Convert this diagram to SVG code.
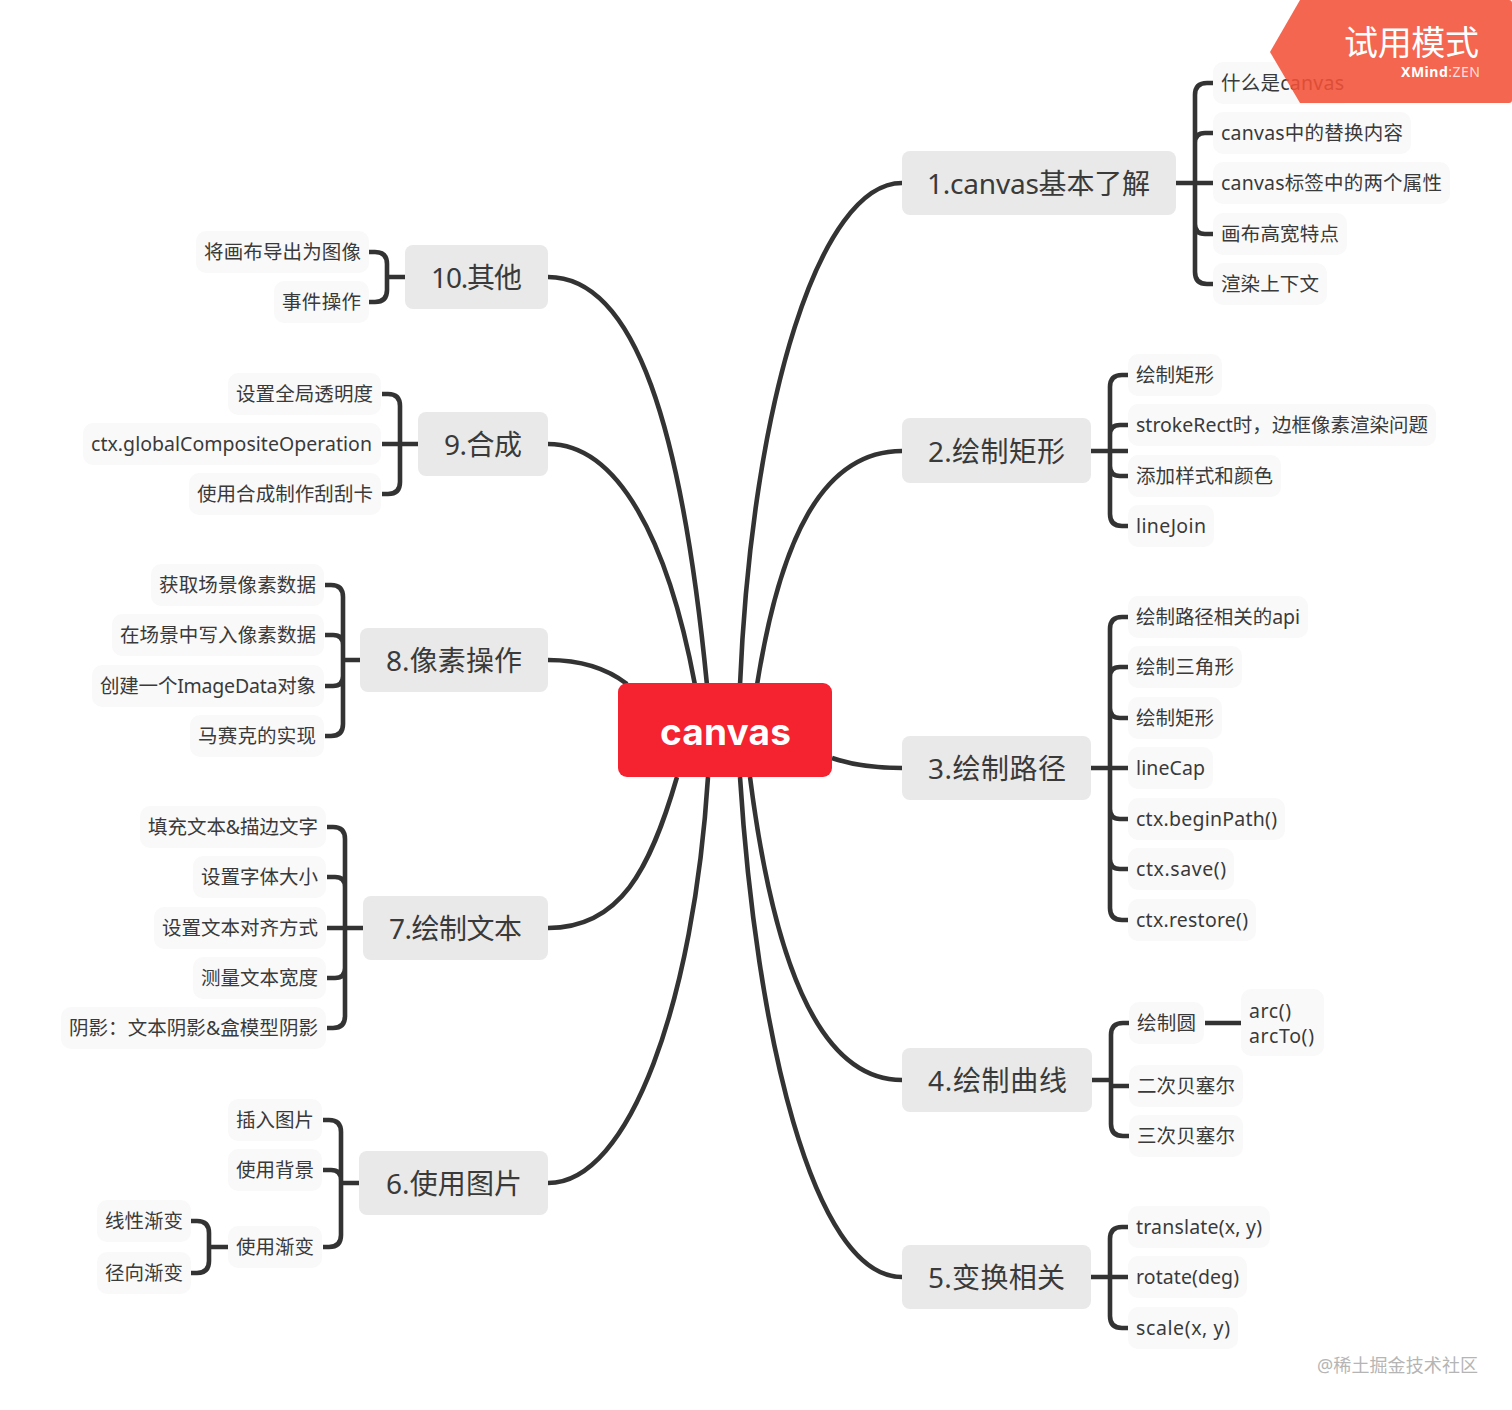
<svg xmlns="http://www.w3.org/2000/svg" width="1512" height="1410" viewBox="0 0 1512 1410">
<style>
text{font-family:"Noto Sans","Noto Sans CJK SC",sans-serif;fill:#3a3a3a;dominant-baseline:central}
.m rect{fill:#e9e9e9}
.s rect{fill:#f9f9f9}
.m text{font-size:28px;transform:translateY(-.5px)}
.s text{font-size:19.5px;transform:translateY(-1px)}
.c path{fill:none;stroke:#333;stroke-width:4.6}
</style>
<rect width="1512" height="1410" fill="#fff"/>
<g id="connectors" class="c">
<path d="M740 685C752 400 820 183 902 183"/>
<path d="M757 685C780 540 822 451 902 451"/>
<path d="M832 758C855 766 880 768 902 768"/>
<path d="M750 777C772 950 815 1080 902 1080"/>
<path d="M740 777C756 1030 812 1277 902 1277"/>
<path d="M708 777C694 1000 630 1183 548 1183"/>
<path d="M677 777C650 870 620 928 548 928"/>
<path d="M627 684C605 667 580 660 548 660"/>
<path d="M695 685C668 540 618 444 548 444"/>
<path d="M707 685C682 430 636 277 548 277"/>
<path d="M1176 183H1213M1213 83H1207Q1195 83 1195 95V272Q1195 284 1207 284H1213M1213 133H1205Q1195 133 1195 143M1213 234H1205Q1195 234 1195 224"/>
<path d="M1091 451H1128M1128 375H1122Q1110 375 1110 387V514Q1110 526 1122 526H1128M1128 425H1120Q1110 425 1110 435M1128 476H1120Q1110 476 1110 466"/>
<path d="M1091 768H1128M1128 617H1122Q1110 617 1110 629V908Q1110 920 1122 920H1128M1128 667H1120Q1110 667 1110 677M1128 718H1120Q1110 718 1110 708M1128 819H1120Q1110 819 1110 809M1128 869H1120Q1110 869 1110 859"/>
<path d="M1092 1080H1111M1129 1023H1123Q1111 1023 1111 1035V1124Q1111 1136 1123 1136H1129M1129 1086H1111M1205 1023H1241"/>
<path d="M1091 1277H1128M1128 1227H1122Q1110 1227 1110 1239V1316Q1110 1328 1122 1328H1128"/>
<path d="M405 277H387M369 252H375Q387 252 387 264V290Q387 302 375 302H369"/>
<path d="M418 444H382M382 394H388Q400 394 400 406V482Q400 494 388 494H382"/>
<path d="M360 660H343M325 585H331Q343 585 343 597V724Q343 736 331 736H325M325 635H333Q343 635 343 645M325 686H333Q343 686 343 676"/>
<path d="M363 928H327M327 827H333Q345 827 345 839V1016Q345 1028 333 1028H327M327 877H335Q345 877 345 887M327 978H335Q345 978 345 968"/>
<path d="M359 1183H341M323 1120H329Q341 1120 341 1132V1235Q341 1247 329 1247H323M323 1170H331Q341 1170 341 1180"/>
<path d="M228 1247H209M191 1221H197Q209 1221 209 1233V1261Q209 1273 197 1273H191"/>
</g>
<g id="root"><rect x="618" y="683" width="214" height="94" rx="9" fill="#f5222f"/><text x="660" y="731" textLength="131" style="font-size:37px;font-weight:700;fill:#fff;font-family:Inter,'Noto Sans',sans-serif">canvas</text></g>

<g id="t1" class="m"><rect x="902" y="151" width="274" height="64" rx="8"/><text x="927" y="183" textLength="223">1.canvas基本了解</text></g>
<g id="t2" class="m"><rect x="902" y="418" width="189" height="65" rx="8"/><text x="928" y="451" textLength="137">2.绘制矩形</text></g>
<g id="t3" class="m"><rect x="902" y="736" width="189" height="64" rx="8"/><text x="928" y="768" textLength="138">3.绘制路径</text></g>
<g id="t4" class="m"><rect x="902" y="1048" width="190" height="64" rx="8"/><text x="928" y="1080" textLength="139">4.绘制曲线</text></g>
<g id="t5" class="m"><rect x="902" y="1245" width="189" height="64" rx="8"/><text x="928" y="1277" textLength="137">5.变换相关</text></g>
<g id="t6" class="m"><rect x="359" y="1151" width="189" height="64" rx="8"/><text x="386" y="1183" textLength="136">6.使用图片</text></g>
<g id="t7" class="m"><rect x="363" y="896" width="185" height="64" rx="8"/><text x="389" y="928" textLength="133">7.绘制文本</text></g>
<g id="t8" class="m"><rect x="360" y="628" width="188" height="64" rx="8"/><text x="386" y="660" textLength="136">8.像素操作</text></g>
<g id="t9" class="m"><rect x="418" y="412" width="130" height="64" rx="8"/><text x="444" y="444" textLength="78">9.合成</text></g>
<g id="t10" class="m"><rect x="405" y="245" width="143" height="64" rx="8"/><text x="431" y="277" textLength="91">10.其他</text></g>

<g id="n1-1" class="s"><rect x="1213" y="62" width="139" height="42" rx="10"/><text x="1221" y="83" textLength="123">什么是canvas</text></g>
<g id="n1-2" class="s"><rect x="1213" y="112" width="198" height="42" rx="10"/><text x="1221" y="133" textLength="182">canvas中的替换内容</text></g>
<g id="n1-3" class="s"><rect x="1213" y="162" width="237" height="42" rx="10"/><text x="1221" y="183" textLength="221">canvas标签中的两个属性</text></g>
<g id="n1-4" class="s"><rect x="1213" y="213" width="134" height="42" rx="10"/><text x="1221" y="234" textLength="118">画布高宽特点</text></g>
<g id="n1-5" class="s"><rect x="1213" y="263" width="114" height="42" rx="10"/><text x="1221" y="284" textLength="98">渲染上下文</text></g>

<g id="n2-1" class="s"><rect x="1128" y="354" width="94" height="42" rx="10"/><text x="1136" y="375" textLength="78">绘制矩形</text></g>
<g id="n2-2" class="s"><rect x="1128" y="404" width="308" height="42" rx="10"/><text x="1136" y="425" textLength="292">strokeRect时，边框像素渲染问题</text></g>
<g id="n2-3" class="s"><rect x="1128" y="455" width="153" height="42" rx="10"/><text x="1136" y="476" textLength="137">添加样式和颜色</text></g>
<g id="n2-4" class="s"><rect x="1128" y="505" width="86" height="42" rx="10"/><text x="1136" y="526" textLength="70">lineJoin</text></g>

<g id="n3-1" class="s"><rect x="1128" y="596" width="180" height="42" rx="10"/><text x="1136" y="617" textLength="164">绘制路径相关的api</text></g>
<g id="n3-2" class="s"><rect x="1128" y="646" width="114" height="42" rx="10"/><text x="1136" y="667" textLength="98">绘制三角形</text></g>
<g id="n3-3" class="s"><rect x="1128" y="697" width="94" height="42" rx="10"/><text x="1136" y="718" textLength="78">绘制矩形</text></g>
<g id="n3-4" class="s"><rect x="1128" y="747" width="85" height="42" rx="10"/><text x="1136" y="768" textLength="69">lineCap</text></g>
<g id="n3-5" class="s"><rect x="1128" y="798" width="157" height="42" rx="10"/><text x="1136" y="819" textLength="141">ctx.beginPath()</text></g>
<g id="n3-6" class="s"><rect x="1128" y="848" width="106" height="42" rx="10"/><text x="1136" y="869" textLength="90">ctx.save()</text></g>
<g id="n3-7" class="s"><rect x="1128" y="899" width="128" height="42" rx="10"/><text x="1136" y="920" textLength="112">ctx.restore()</text></g>

<g id="n4-1" class="s"><rect x="1129" y="1002" width="75" height="42" rx="10"/><text x="1137" y="1023" textLength="59">绘制圆</text></g>
<g id="n4-1-1" class="s"><rect x="1241" y="989" width="83" height="67" rx="10"/><text x="1249" y="1011" textLength="42">arc()</text><text x="1249" y="1036" textLength="65">arcTo()</text></g>
<g id="n4-2" class="s"><rect x="1129" y="1065" width="114" height="42" rx="10"/><text x="1137" y="1086" textLength="98">二次贝塞尔</text></g>
<g id="n4-3" class="s"><rect x="1129" y="1115" width="114" height="42" rx="10"/><text x="1137" y="1136" textLength="98">三次贝塞尔</text></g>

<g id="n5-1" class="s"><rect x="1128" y="1206" width="142" height="42" rx="10"/><text x="1136" y="1227" textLength="126">translate(x, y)</text></g>
<g id="n5-2" class="s"><rect x="1128" y="1256" width="119" height="42" rx="10"/><text x="1136" y="1277" textLength="103">rotate(deg)</text></g>
<g id="n5-3" class="s"><rect x="1128" y="1307" width="110" height="42" rx="10"/><text x="1136" y="1328" textLength="94">scale(x, y)</text></g>

<g id="n6-1" class="s"><rect x="228" y="1099" width="94" height="42" rx="10"/><text x="236" y="1120" textLength="78">插入图片</text></g>
<g id="n6-2" class="s"><rect x="228" y="1149" width="94" height="42" rx="10"/><text x="236" y="1170" textLength="78">使用背景</text></g>
<g id="n6-3" class="s"><rect x="228" y="1226" width="94" height="42" rx="10"/><text x="236" y="1247" textLength="78">使用渐变</text></g>
<g id="n6-3-1" class="s"><rect x="97" y="1200" width="94" height="42" rx="10"/><text x="105" y="1221" textLength="78">线性渐变</text></g>
<g id="n6-3-2" class="s"><rect x="97" y="1252" width="94" height="42" rx="10"/><text x="105" y="1273" textLength="78">径向渐变</text></g>

<g id="n7-1" class="s"><rect x="140" y="806" width="186" height="42" rx="10"/><text x="148" y="827" textLength="170">填充文本&amp;描边文字</text></g>
<g id="n7-2" class="s"><rect x="193" y="856" width="133" height="42" rx="10"/><text x="201" y="877" textLength="117">设置字体大小</text></g>
<g id="n7-3" class="s"><rect x="154" y="907" width="172" height="42" rx="10"/><text x="162" y="928" textLength="156">设置文本对齐方式</text></g>
<g id="n7-4" class="s"><rect x="193" y="957" width="133" height="42" rx="10"/><text x="201" y="978" textLength="117">测量文本宽度</text></g>
<g id="n7-5" class="s"><rect x="61" y="1007" width="265" height="42" rx="10"/><text x="69" y="1028" textLength="249">阴影：文本阴影&amp;盒模型阴影</text></g>

<g id="n8-1" class="s"><rect x="151" y="564" width="173" height="42" rx="10"/><text x="159" y="585" textLength="157">获取场景像素数据</text></g>
<g id="n8-2" class="s"><rect x="112" y="614" width="212" height="42" rx="10"/><text x="120" y="635" textLength="196">在场景中写入像素数据</text></g>
<g id="n8-3" class="s"><rect x="92" y="665" width="232" height="42" rx="10"/><text x="100" y="686" textLength="216">创建一个ImageData对象</text></g>
<g id="n8-4" class="s"><rect x="190" y="715" width="134" height="42" rx="10"/><text x="198" y="736" textLength="118">马赛克的实现</text></g>

<g id="n9-1" class="s"><rect x="228" y="373" width="153" height="42" rx="10"/><text x="236" y="394" textLength="137">设置全局透明度</text></g>
<g id="n9-2" class="s"><rect x="83" y="423" width="298" height="42" rx="10"/><text x="91" y="444" textLength="281">ctx.globalCompositeOperation</text></g>
<g id="n9-3" class="s"><rect x="189" y="473" width="192" height="42" rx="10"/><text x="197" y="494" textLength="176">使用合成制作刮刮卡</text></g>

<g id="n10-1" class="s"><rect x="196" y="231" width="173" height="42" rx="10"/><text x="204" y="252" textLength="157">将画布导出为图像</text></g>
<g id="n10-2" class="s"><rect x="274" y="281" width="95" height="42" rx="10"/><text x="282" y="302" textLength="79">事件操作</text></g>

<path d="M1300 0H1509Q1512 0 1512 3V100Q1512 103 1509 103H1300L1270 52Z" fill="#f25137" fill-opacity=".88"/>
<text x="1344" y="42" textLength="135" style="font-size:34px;fill:#fff">试用模式</text>
<text x="1401" y="71" textLength="79" style="font-size:14px;font-weight:700;fill:#fff">XMind<tspan style="font-weight:400;fill:#fdd">:ZEN</tspan></text>
<text x="1317" y="1365" textLength="161" style="font-size:18px;fill:#b5b5b5">@稀土掘金技术社区</text>
</svg>
